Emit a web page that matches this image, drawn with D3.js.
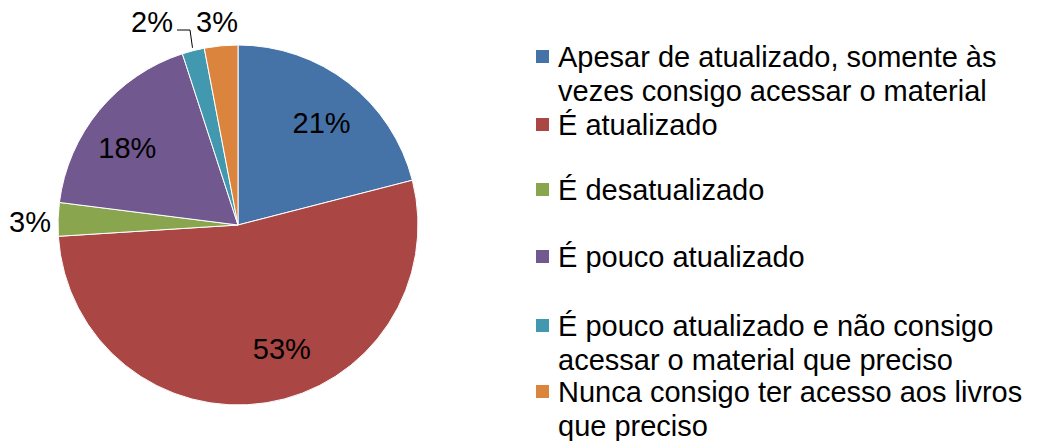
<!DOCTYPE html>
<html>
<head>
<meta charset="utf-8">
<script src="https://cdn.jsdelivr.net/npm/d3@7"></script>
<style>
  html, body { margin: 0; padding: 0; background: #fff; }
  svg { display: block; }
  text { font-family: "Liberation Sans", Arial, sans-serif; fill: #000; }
</style>
</head>
<body>
<svg id="chart" width="1039" height="441"></svg>
<script>
// Categories, values (percent) and colours of the pie
const categories = [
  "Apesar de atualizado, somente às vezes consigo acessar o material",
  "É atualizado",
  "É desatualizado",
  "É pouco atualizado",
  "É pouco atualizado e não consigo acessar o material que preciso",
  "Nunca consigo ter acesso aos livros que preciso"
];
const values = [21, 53, 3, 18, 2, 3];
const colors = ["#4572A7", "#AA4643", "#89A54E", "#71588F", "#4198AF", "#DB843D"];

// Legend lines (wrapped as drawn) and vertical positions of each entry's first line
const legendLines = [
  ["Apesar de atualizado, somente às", "vezes consigo acessar o material"],
  ["É atualizado"],
  ["É desatualizado"],
  ["É pouco atualizado"],
  ["É pouco atualizado e não consigo", "acessar o material que preciso"],
  ["Nunca consigo ter acesso aos livros", "que preciso"]
];
const legendY = [57, 125, 190, 257, 326, 392];

const svg = d3.select("#chart");
const cx = 238, cy = 225, r = 180;
const fontSize = 29;

const pie = d3.pie().sort(null).value(d => d);
const arcs = pie(values);
const arc = d3.arc().innerRadius(0).outerRadius(r);

const g = svg.append("g").attr("transform", `translate(${cx},${cy})`);
g.selectAll("path")
  .data(arcs)
  .join("path")
  .attr("d", arc)
  .attr("fill", (d, i) => colors[i])
  .attr("stroke", "#fff")
  .attr("stroke-width", 1);

// Percentage labels: inside for large slices (with small nudges), outside for small ones
const fmt = v => v + "%";
const insideArc = d3.arc().innerRadius(r * 0.74).outerRadius(r * 0.74);
const nudge = [[2, 3], [23, -8], null, [-8, 8], null, null];
const labelPos = [
  null, null,
  { x: 30, y: 222 },   // 3% green, outside left
  null,
  { x: 152, y: 22 },   // 2% teal, outside top with leader
  { x: 217, y: 22 }    // 3% orange, outside top
];
arcs.forEach((d, i) => {
  let x, y;
  if (labelPos[i]) {
    x = labelPos[i].x; y = labelPos[i].y;
  } else {
    const c = insideArc.centroid(d);
    x = cx + c[0] + nudge[i][0]; y = cy + c[1] + nudge[i][1];
  }
  svg.append("text")
    .attr("x", x).attr("y", y)
    .attr("text-anchor", "middle")
    .attr("dominant-baseline", "central")
    .style("font-size", fontSize + "px")
    .text(fmt(values[i]));
});

// Leader line for the 2% slice
const tealMid = (arcs[4].startAngle + arcs[4].endAngle) / 2;
const edgeX = cx + Math.sin(tealMid) * (r + 3);
const edgeY = cy - Math.cos(tealMid) * (r + 3);
svg.append("polyline")
  .attr("points", `177,30 190,30 ${edgeX},${edgeY}`)
  .attr("fill", "none")
  .attr("stroke", "#000")
  .attr("stroke-width", 1);

// Legend
const lineH = 34;
const legend = svg.append("g");
legendLines.forEach((lines, i) => {
  const y0 = legendY[i];
  legend.append("rect")
    .attr("x", 536).attr("y", y0 - 7)
    .attr("width", 13).attr("height", 13)
    .attr("fill", colors[i]);
  lines.forEach((t, j) => {
    legend.append("text")
      .attr("x", 558).attr("y", y0 + j * lineH)
      .attr("dominant-baseline", "central")
      .style("font-size", fontSize + "px")
      .text(t);
  });
});
</script>
</body>
</html>
